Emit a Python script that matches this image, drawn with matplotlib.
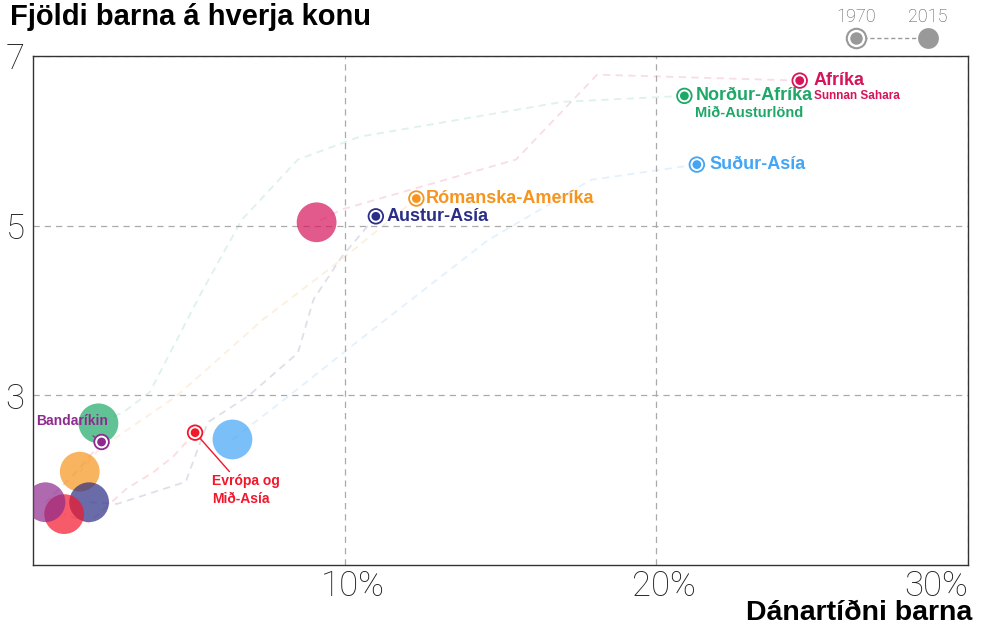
import matplotlib.pyplot as plt
import matplotlib.transforms as mtrans
from matplotlib.lines import Line2D

# Regions, 1970 and 2015 positions (child mortality %, births per woman)
regions = ['Afríka', 'Norður-Afríka', 'Suður-Asía', 'Rómanska-Ameríka',
           'Austur-Asía', 'Evrópa og\nMið-Asía', 'Bandaríkin']
colors = ['#d6145a', '#1ea868', '#42a5f5', '#f7941d', '#2b2e86', '#f4162a', '#8e2a8e']
x1970 = [24.6, 20.9, 21.3, 12.3, 11.0, 5.2, 2.2]
y1970 = [6.71, 6.53, 5.72, 5.32, 5.11, 2.56, 2.45]
x2015 = [9.1, 2.1, 6.4, 1.5, 1.8, 1.0, 0.4]
y2015 = [5.04, 2.67, 2.48, 2.10, 1.74, 1.60, 1.74]

# rough trajectory waypoints (between 1970 and 2015)
path_x = [[18.1, 15.5, 9.9],
          [17.0, 10.5, 8.5, 6.7, 5.4, 3.75, 2.9],
          [17.9, 14.6, 10.5, 8.2],
          [9.9, 7.4, 4.6, 2.1],
          [9.9, 9.0, 8.5, 6.9, 5.6, 4.9, 2.7],
          [4.5, 3.85, 3.0, 1.8],
          [1.4]]
path_y = [[6.78, 5.78, 5.19],
          [6.46, 6.05, 5.78, 5.07, 4.21, 3.04, 2.8],
          [5.54, 4.83, 3.66, 2.99],
          [4.6, 3.9, 2.99, 2.36],
          [4.63, 4.13, 3.5, 2.99, 2.68, 1.98, 1.72],
          [2.28, 2.09, 1.9, 1.5],
          [2.1]]

big_alpha = 0.7

fig = plt.figure(figsize=(9.81, 6.29), dpi=100)
ax = fig.add_axes([33 / 981, 1 - 565 / 629, 935 / 981, 509 / 629])

for i in range(len(regions)):
    px = [x1970[i]] + path_x[i] + [x2015[i]]
    py = [y1970[i]] + path_y[i] + [y2015[i]]
    ax.plot(px, py, color=colors[i], alpha=0.15, lw=1.3, ls=(0, (4, 3)), zorder=1)

ax.scatter(x2015, y2015, s=820, c=colors, alpha=big_alpha, lw=0, zorder=3)
ax.scatter(x1970, y1970, s=110, facecolor='white', edgecolor=colors, lw=1.3, zorder=4)
ax.scatter(x1970, y1970, s=40, c=colors, lw=0, zorder=5)

ax.set_xlim(0, 30)
ax.set_ylim(1, 7)
ax.set_xticks([10, 20, 30])
ax.set_xticklabels(['10%', '20%', '30%'])
ax.set_yticks([3, 5, 7])
ax.grid(True, color='#aaaaaa', ls=(0, (5, 4)), lw=0.9)
ax.tick_params(length=0, labelsize=25, colors='#222222')
ax.tick_params(axis='x', pad=3)
ax.tick_params(axis='y', pad=6)
for lab in ax.get_xticklabels() + ax.get_yticklabels():
    lab.set_fontfamily('Roboto')
    lab.set_fontweight('light')
xl = ax.get_xticklabels()
shift = mtrans.ScaledTranslation(8 / 100, 0, fig.dpi_scale_trans)
for lab in xl[:-1]:
    lab.set_transform(lab.get_transform() + shift)
xl[-1].set_horizontalalignment('right')
for sp in ax.spines.values():
    sp.set_color('#333333')
    sp.set_linewidth(1)

# region labels
lab_font = dict(fontfamily='Liberation Sans', fontweight='bold')
ax.annotate('Afríka', (x1970[0], y1970[0]), xytext=(10, 0), textcoords='offset points',
            va='center', color=colors[0], fontsize=13, **lab_font)
ax.annotate('Sunnan Sahara', (x1970[0], y1970[0]), xytext=(10, -11), textcoords='offset points',
            va='center', color=colors[0], fontsize=8.5, **lab_font)
ax.annotate('Norður-Afríka', (x1970[1], y1970[1]), xytext=(8, 0), textcoords='offset points',
            va='center', color=colors[1], fontsize=13, **lab_font)
ax.annotate('Mið-Austurlönd', (x1970[1], y1970[1]), xytext=(8, -12), textcoords='offset points',
            va='center', color=colors[1], fontsize=10.5, **lab_font)
ax.annotate('Suður-Asía', (x1970[2], y1970[2]), xytext=(9, 0), textcoords='offset points',
            va='center', color=colors[2], fontsize=13, **lab_font)
ax.annotate('Rómanska-Ameríka', (x1970[3], y1970[3]), xytext=(7, 0), textcoords='offset points',
            va='center', color=colors[3], fontsize=13, **lab_font)
ax.annotate('Austur-Asía', (x1970[4], y1970[4]), xytext=(8, 0), textcoords='offset points',
            va='center', color=colors[4], fontsize=13, **lab_font)
ax.annotate('Evrópa og\nMið-Asía', (x1970[5], y1970[5]), xytext=(12, -30), textcoords='offset points',
            va='top', ha='left', color=colors[5], fontsize=10, linespacing=1.3,
            arrowprops=dict(arrowstyle='-', color=colors[5], lw=1, shrinkA=0, shrinkB=5), **lab_font)
ax.annotate('Bandaríkin', (x1970[6], y1970[6]), xytext=(-21, 15), textcoords='offset points',
            va='center', ha='center', color=colors[6], fontsize=10,
            arrowprops=dict(arrowstyle='-', color=colors[6], lw=0.8, shrinkA=6, shrinkB=5), **lab_font)

# titles
fig.text(10 / 981, 1 - 17 / 629, 'Fjöldi barna á hverja konu', fontsize=21, fontweight='bold',
         fontfamily='Liberation Sans', va='center', ha='left')
fig.text(972 / 981, 1 - 613 / 629, 'Dánartíðni barna', fontsize=20.5, fontweight='bold',
         fontfamily='Liberation Sans', va='center', ha='right')

# year legend
lx1, lx2, ly = 856 / 981, 928 / 981, 1 - 38 / 629
fig.add_artist(Line2D([lx1, lx2], [ly, ly], color='#999999', ls=(0, (3, 2)), lw=1,
                      transform=fig.transFigure))
fig.add_artist(Line2D([lx1], [ly], marker='o', ms=14, mfc='white', mec='#999999', mew=1.5,
                      transform=fig.transFigure))
fig.add_artist(Line2D([lx1], [ly], marker='o', ms=9, mfc='#999999', mec='none',
                      transform=fig.transFigure))
fig.add_artist(Line2D([lx2], [ly], marker='o', ms=15, mfc='#999999', mec='none',
                      transform=fig.transFigure))
fig.text(lx1, 1 - 17 / 629, '1970', fontsize=13, color='#555555', ha='center', va='center',
         fontfamily='Roboto', fontweight='light')
fig.text(lx2, 1 - 17 / 629, '2015', fontsize=13, color='#555555', ha='center', va='center',
         fontfamily='Roboto', fontweight='light')

fig.savefig('out.png', dpi=100)
